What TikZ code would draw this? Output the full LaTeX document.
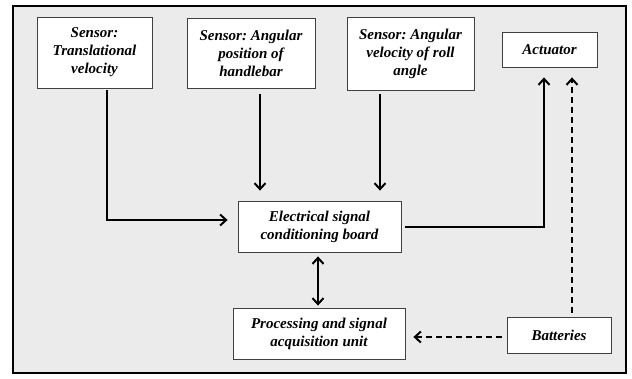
\documentclass[tikz,border=0pt]{standalone}
\usepackage{fontspec}
\setmainfont{Liberation Serif}
\usetikzlibrary{arrows.meta}
\begin{document}
\frenchspacing
\begin{tikzpicture}[x=1pt,y=-1pt,
  blk/.style={draw=black!75,line width=0.8pt,fill=white,align=center,
    font=\fontsize{15}{18}\selectfont\bfseries\itshape,inner sep=0pt},
  tip/.style={Straight Barb[length=6pt,width=11pt,line width=2pt]},
  arr/.style={line width=2pt,-{Straight Barb[length=6pt,width=11pt,line width=2pt]}},
  darr/.style={arr,dash pattern=on 6pt off 4pt}]
\useasboundingbox (0,0) rectangle (632,378);
\draw[line width=2.5pt,fill=black!8] (13,6) rectangle (626,373);
\node[blk,minimum width=115pt,minimum height=71pt] (s1) at (94.5,52.5) {Sensor:\\Translational\\velocity};
\node[blk,minimum width=128pt,minimum height=70pt] (s2) at (251,53) {Sensor: Angular\\position of\\handlebar};
\node[blk,minimum width=127pt,minimum height=73pt] (s3) at (410.5,53.5) {Sensor: Angular\\velocity of roll\\angle};
\node[blk,minimum width=95pt,minimum height=35pt] (act) at (549.5,49.5) {Actuator};
\node[blk,minimum width=163pt,minimum height=51pt] (ecb) at (319.5,226.5) {Electrical signal\\conditioning board};
\node[blk,minimum width=172pt,minimum height=51pt] (psa) at (319,333.5) {Processing and signal\\acquisition unit};
\node[blk,minimum width=104pt,minimum height=36pt] (bat) at (559,335) {Batteries};
\coordinate (c1) at (107,220);
\draw[arr] ([yshift=-2pt]s1.south -| c1) -- (c1) -- ([xshift=-10pt]ecb.west |- c1);
\draw[arr] ([yshift=-6pt]s2.south -| 260,0) -- ([yshift=10pt]ecb.north -| 260,0);
\draw[arr] ([yshift=-4pt]s3.south -| 380,0) -- ([yshift=10pt]ecb.north -| 380,0);
\coordinate (c2) at (544,227);
\draw[arr,line width=2.8pt] ([xshift=4pt]ecb.east |- c2) -- (c2) -- ([yshift=-10pt]act.south -| c2);
\draw[darr] ([yshift=4pt]bat.north -| 572,0) -- ([yshift=-10pt]act.south -| 572,0);
\draw[darr] ([xshift=-5pt]bat.west |- 0,337) -- ([xshift=8pt]psa.east |- 0,337);
\draw[line width=2pt,{Straight Barb[length=6pt,width=11pt,line width=2pt]}-{Straight Barb[length=6pt,width=11pt,line width=2pt]}] ([yshift=-4pt]ecb.south -| 318,0) -- ([yshift=2pt]psa.north -| 318,0);
\end{tikzpicture}
\end{document}
